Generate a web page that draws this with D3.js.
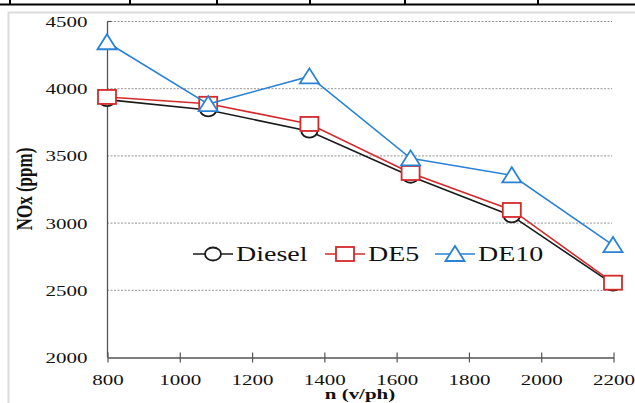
<!DOCTYPE html>
<html lang="en">
<head>
<meta charset="UTF-8">
<title>NOx vs n</title>
<script src="https://d3js.org/d3.v7.min.js"></script>
<style>
    body { margin: 0; background: #fff; }
    svg { display: block; }
    svg text { font-family: "Liberation Serif", "Tinos", "Times New Roman", "DejaVu Serif", serif !important; fill: #111; }
</style>
</head>
<body>
<svg width="635" height="403"></svg>
<script>
    // chart data
    const speeds = [800, 1080, 1360, 1640, 1920, 2200];
    const diesel = [3915, 3838, 3680, 3345, 3050, 2542];
    const de5 = [3935, 3884, 3734, 3369, 3094, 2553];
    const de10 = [4342, 3882, 4088, 3478, 3352, 2833];
    const xTicks = [800, 1000, 1200, 1400, 1600, 1800, 2000, 2200];
    const yTicks = [2000, 2500, 3000, 3500, 4000, 4500];
    const seriesNames = ["Diesel", "DE5", "DE10"];

    const series = [
        { name: seriesNames[0], values: diesel, color: "#1a1a1a", shape: "circle" },
        { name: seriesNames[1], values: de5, color: "#d42a2a", shape: "square" },
        { name: seriesNames[2], values: de10, color: "#2a82d4", shape: "triangle" }
    ];

    const svg = d3.select("svg");
    const sx = 1.4; // the picture is stretched sideways
    const serif = "'Liberation Serif', Tinos, 'Times New Roman', 'DejaVu Serif', serif";

    // bits of the table above the figure
    svg.append("line").attr("x1", 0).attr("x2", 635).attr("y1", 4.5).attr("y2", 4.5)
        .attr("stroke", "#000").attr("stroke-width", 2);
    [10, 130, 217, 310, 405, 538].forEach(x => {
        svg.append("line").attr("x1", x).attr("x2", x).attr("y1", 0).attr("y2", 5)
            .attr("stroke", "#000").attr("stroke-width", 2);
    });
    // light frame of the figure
    svg.append("path").attr("d", "M8.5,403V12.5H635")
        .attr("fill", "none").attr("stroke", "#dcdcdc").attr("stroke-width", 2);

    const x = d3.scaleLinear().domain([800, 2200]).range([107, 613]);
    const y = d3.scaleLinear().domain([2000, 4500]).range([357, 21]);

    // dashed gridlines
    svg.append("g").selectAll("line")
        .data(yTicks.filter(d => d > 2000))
        .join("line")
        .attr("x1", 107).attr("x2", 612)
        .attr("y1", d => y(d) + 0.5).attr("y2", d => y(d) + 0.5)
        .attr("stroke", "#777").attr("stroke-width", 0.8)
        .attr("stroke-dasharray", "2,1.5");

    // y axis
    const yAxis = svg.append("g")
        .attr("transform", "translate(107.5,0.5)")
        .call(d3.axisLeft(y).tickValues(yTicks).tickSize(0).tickPadding(0))
        .attr("font-family", serif);
    yAxis.select(".domain").attr("stroke", "#555").attr("stroke-width", 1.3)
        .attr("d", `M0,${y(4500)}V${y(2000)}`);
    yAxis.selectAll(".tick text").remove();
    yAxis.selectAll(".tick").append("text")
        .attr("transform", `translate(-20,5) scale(${sx},1)`)
        .attr("text-anchor", "end")
        .attr("font-family", serif)
        .style("font-size", "15px")
        .text(d => d);
    yAxis.append("line").attr("x1", 0).attr("x2", 4).attr("y1", y(4500)).attr("y2", y(4500))
        .attr("stroke", "#555").attr("stroke-width", 1.2);

    // x axis
    const xAxis = svg.append("g")
        .attr("transform", `translate(0.5,${y(2000) + 0.5})`)
        .call(d3.axisBottom(x).tickValues(xTicks).tickSizeInner(5).tickSizeOuter(0))
        .attr("font-family", serif);
    xAxis.select(".domain").attr("stroke", "#555").attr("stroke-width", 1.3);
    xAxis.selectAll(".tick line").attr("stroke", "#555").attr("stroke-width", 1.2)
        .attr("y1", -5).attr("y2", 5);
    xAxis.selectAll(".tick text").remove();
    xAxis.selectAll(".tick").append("text")
        .attr("transform", `translate(0,27) scale(${sx},1)`)
        .attr("text-anchor", "middle")
        .attr("font-family", serif)
        .style("font-size", "15px")
        .text(d => d);

    // axis titles
    svg.append("text")
        .attr("transform", `translate(360,398.5) scale(${sx},1)`)
        .attr("text-anchor", "middle")
        .attr("font-family", serif)
        .style("font-size", "15px").style("font-weight", "bold")
        .text("n (v/ph)");
    svg.append("text")
        .attr("transform", `translate(32,189) rotate(-90) scale(1,${sx})`)
        .attr("text-anchor", "middle")
        .attr("font-family", serif)
        .style("font-size", "17px").style("font-weight", "bold")
        .text("NOx (ppm)");

    function marker(g, shape, color) {
        if (shape === "circle") {
            g.append("ellipse").attr("rx", 8).attr("ry", 6.5);
        } else if (shape === "square") {
            g.append("rect").attr("x", -9).attr("y", -7).attr("width", 18).attr("height", 14);
        } else {
            g.append("path").attr("d", "M0,-8L9.5,7H-9.5Z");
        }
        g.selectAll("*").attr("fill", "#fff").attr("stroke", color).attr("stroke-width", 1.8);
    }

    const line = d3.line().x((d, i) => x(speeds[i])).y(d => y(d));

    series.forEach(s => {
        svg.append("path")
            .attr("d", line(s.values))
            .attr("fill", "none")
            .attr("stroke", s.color)
            .attr("stroke-width", 1.6);
        s.values.forEach((v, i) => {
            const g = svg.append("g").attr("transform", `translate(${x(speeds[i])},${y(v)})`);
            marker(g, s.shape, s.color);
        });
    });

    // legend inside the plot
    const legendX = [193, 325, 435];
    series.forEach((s, i) => {
        const g = svg.append("g").attr("transform", `translate(${legendX[i]},254)`);
        g.append("line").attr("x1", 0).attr("x2", 40).attr("y1", 0).attr("y2", 0)
            .attr("stroke", s.color).attr("stroke-width", 1.6);
        marker(g.append("g").attr("transform", "translate(20,0)"), s.shape, s.color);
        g.append("text")
            .attr("transform", `translate(43,7) scale(${sx},1)`)
            .attr("font-family", serif)
            .style("font-size", "20px")
            .text(s.name);
    });
</script>
</body>
</html>
